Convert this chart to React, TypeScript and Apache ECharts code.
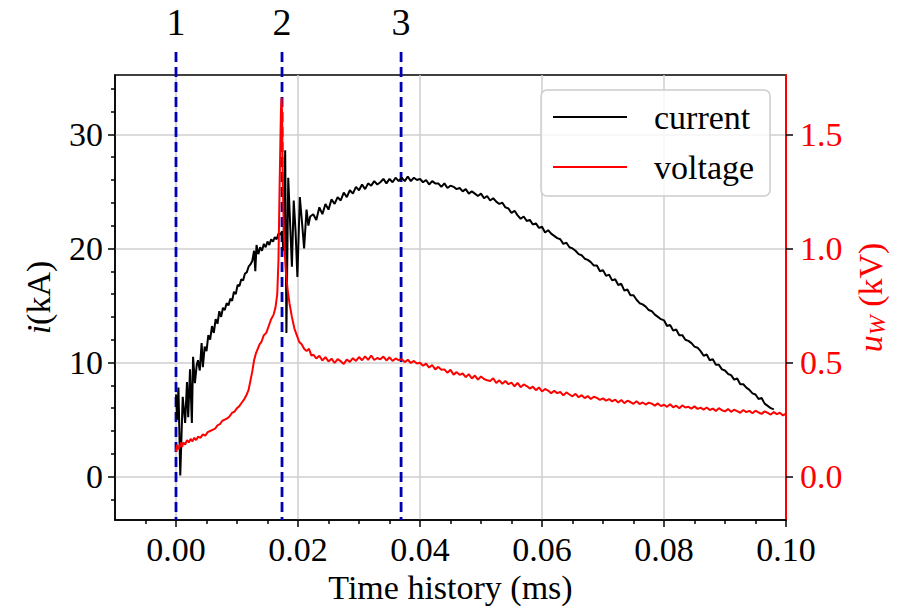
import React, { useEffect, useRef } from "react";
import * as echarts from "echarts";

const FONT = "'Liberation Serif', 'DejaVu Serif', serif";

const X_MIN = -0.01;
const X_MAX = 0.1;
const I_MIN = -3.8;
const I_MAX = 35.2;
const U_MIN = -0.19;
const U_MAX = 1.76;

const xMajorTicks = [0, 0.02, 0.04, 0.06, 0.08, 0.1];
const xMinorTicks = [-0.005, 0.005, 0.01, 0.015, 0.025, 0.03, 0.035, 0.045, 0.05, 0.055, 0.065, 0.07, 0.075, 0.085, 0.09, 0.095];
const iMajorTicks = [0, 10, 20, 30];
const iMinorTicks = [-2, 2, 4, 6, 8, 12, 14, 16, 18, 22, 24, 26, 28, 32, 34];
const uMajorTicks = [0, 0.5, 1.0, 1.5];

const markerTimes = [0.0, 0.01738, 0.0369];
const markerLabels = ["1", "2", "3"];

// current (kA): irregular early part
const currentEarlyT = [
  0, 0.0002, 0.0004, 0.0007, 0.0011, 0.0015, 0.0018, 0.002, 0.0023, 0.0026, 0.0028, 0.0031, 0.0034, 0.0036,
  0.0039, 0.0042, 0.0044, 0.0047, 0.005, 0.0053, 0.0056, 0.0059, 0.0062, 0.0065, 0.0068, 0.0071, 0.0074,
  0.0077, 0.008, 0.0083, 0.0086, 0.0089, 0.0092, 0.0095, 0.0098, 0.0101, 0.0104, 0.0107, 0.011, 0.0113,
  0.0116, 0.0119, 0.0122, 0.0125, 0.0128, 0.013, 0.0132, 0.0135, 0.0138, 0.0141, 0.0144, 0.0147, 0.015,
  0.0153, 0.0156, 0.0159, 0.0162, 0.0165, 0.0168, 0.0171, 0.0174, 0.0176, 0.0179, 0.0181, 0.0184, 0.0188,
  0.019, 0.0193, 0.0196, 0.0199, 0.0203, 0.0207, 0.021, 0.0214, 0.0217, 0.022,
];
const currentEarlyI = [
  7.2, 5.0, 7.8, 0.1, 7.0, 4.7, 8.3, 5.2, 9.4, 4.7, 10.5, 8.2, 9.8, 10.2,
  9.3, 11.7, 9.6, 11.4, 11.0, 12.4, 12.0, 13.2, 12.6, 13.8, 13.4, 14.5, 14.0,
  14.8, 14.6, 15.2, 15.0, 15.6, 15.4, 16.2, 16.0, 16.8, 16.7, 17.3, 17.2, 17.8,
  17.9, 18.4, 18.6, 18.9, 19.8, 18.0, 20.3, 19.5, 20.1, 19.8, 20.4, 20.1, 20.6,
  20.3, 20.8, 20.6, 21.0, 20.8, 21.3, 21.2, 21.5, 19.8, 28.6, 12.6, 26.2, 21.0,
  18.4, 24.2, 21.5, 17.5, 24.5, 22.0, 20.0, 23.4, 22.0, 22.8,
];

// sampled part (every 0.0005 ms from 0.0225 ms)
const LATE_T0 = 0.0225;
const SAMPLE_DT = 0.0005;
const currentLate = [
  23.0, 22.5, 23.6, 23.0, 23.9, 23.4, 24.3, 23.9, 24.5, 24.2, 24.9, 24.5, 25.1, 24.8, 25.4, 25.1,
  25.6, 25.2, 25.7, 25.5, 25.9, 25.6, 25.8, 26.1, 25.7, 26.1, 25.8, 26.2, 25.9, 26.2, 25.9, 26.3,
  25.9, 26.2, 26.0, 26.1, 25.8, 26.0, 25.6, 25.9, 25.7, 25.7, 25.4, 25.7, 25.3, 25.5, 25.4, 25.2,
  25.3, 25.0, 25.2, 24.8, 25.0, 24.8, 24.6, 24.8, 24.4, 24.6, 24.2, 24.4, 24.1, 23.9, 24.0, 23.6,
  23.5, 23.1, 23.3, 22.9, 22.6, 22.8, 22.4, 22.5, 22.1, 22.2, 21.8, 21.9, 21.4, 21.6, 21.3, 21.1,
  20.9, 20.8, 20.4, 20.5, 20.1, 20.0, 19.8, 19.5, 19.4, 19.1, 19.0, 18.8, 18.5, 18.5, 18.0, 18.1,
  17.6, 17.7, 17.2, 17.3, 16.8, 16.9, 16.3, 16.4, 15.9, 15.9, 15.5, 15.2, 15.1, 14.9, 14.6, 14.5,
  14.2, 14.0, 13.8, 13.7, 13.2, 13.3, 12.8, 12.9, 12.4, 12.4, 12.0, 11.9, 11.7, 11.4, 11.3, 11.0,
  10.6, 10.7, 10.2, 10.3, 9.8, 9.8, 9.4, 9.3, 9.0, 8.9, 8.5, 8.6, 8.1, 8.1, 7.8, 7.6,
  7.3, 7.2, 6.8, 6.9, 6.4, 6.2, 6.0, 5.9,
];

// voltage (kV): irregular early part
const voltageEarlyT = [
  0, 0.0002, 0.0004, 0.0006, 0.0008, 0.001, 0.0012, 0.0015, 0.0018, 0.0021, 0.0024, 0.0027, 0.003, 0.0033,
  0.0036, 0.004, 0.0044, 0.0048, 0.0052, 0.0056, 0.006, 0.0064, 0.0068, 0.0072, 0.0076, 0.008, 0.0084,
  0.0088, 0.0092, 0.0096, 0.01, 0.0104, 0.0108, 0.0112, 0.0116, 0.0119, 0.0122, 0.0125, 0.0128, 0.0131,
  0.0134, 0.0137, 0.014, 0.0144, 0.0148, 0.0152, 0.0156, 0.016, 0.0163, 0.0166, 0.0168, 0.017, 0.0172,
  0.0173, 0.0174, 0.0175, 0.0177, 0.018, 0.0183, 0.0186, 0.019, 0.0194, 0.0198, 0.0202, 0.0206, 0.021,
  0.0214, 0.0218, 0.0222,
];
const voltageEarlyU = [
  0.11, 0.14, 0.12, 0.13, 0.15, 0.13, 0.15, 0.14, 0.16, 0.15, 0.165, 0.155, 0.17, 0.16,
  0.175, 0.17, 0.185, 0.18, 0.195, 0.2, 0.205, 0.21, 0.225, 0.23, 0.245, 0.25, 0.255,
  0.265, 0.28, 0.285, 0.3, 0.31, 0.325, 0.34, 0.36, 0.38, 0.42, 0.46, 0.51, 0.54,
  0.56, 0.58, 0.59, 0.62, 0.63, 0.66, 0.69, 0.71, 0.74, 0.8, 0.95, 1.3, 1.6,
  1.66, 1.58, 1.3, 1.05, 0.9, 0.82, 0.76, 0.7, 0.65, 0.62, 0.59, 0.58, 0.56,
  0.55, 0.56, 0.53,
];
const voltageLate = [
  0.535, 0.518, 0.53, 0.509, 0.524, 0.505, 0.517, 0.498, 0.515, 0.506, 0.494, 0.513, 0.503, 0.519, 0.507, 0.524,
  0.51, 0.527, 0.512, 0.531, 0.511, 0.52, 0.514, 0.526, 0.509, 0.523, 0.507, 0.518, 0.511, 0.515, 0.502, 0.512,
  0.498, 0.507, 0.496, 0.499, 0.486, 0.495, 0.478, 0.489, 0.47, 0.481, 0.468, 0.47, 0.455, 0.468, 0.447, 0.458,
  0.446, 0.452, 0.436, 0.449, 0.43, 0.443, 0.425, 0.439, 0.428, 0.422, 0.419, 0.431, 0.41, 0.422, 0.407, 0.419,
  0.405, 0.412, 0.396, 0.411, 0.392, 0.404, 0.397, 0.386, 0.394, 0.379, 0.391, 0.373, 0.384, 0.377, 0.365, 0.376,
  0.366, 0.371, 0.356, 0.369, 0.36, 0.352, 0.363, 0.348, 0.357, 0.344, 0.353, 0.34, 0.35, 0.345, 0.336, 0.343,
  0.333, 0.34, 0.33, 0.337, 0.325, 0.336, 0.322, 0.333, 0.327, 0.319, 0.33, 0.318, 0.325, 0.316, 0.324, 0.32,
  0.311, 0.321, 0.309, 0.315, 0.306, 0.317, 0.304, 0.311, 0.3, 0.312, 0.303, 0.306, 0.298, 0.308, 0.297, 0.302,
  0.294, 0.303, 0.292, 0.298, 0.288, 0.3, 0.291, 0.286, 0.296, 0.284, 0.293, 0.287, 0.28, 0.292, 0.283, 0.288,
  0.278, 0.289, 0.281, 0.275, 0.286, 0.279, 0.272, 0.283, 0.274, 0.28, 0.268, 0.276,
];

const GRID = { left: 115, right: 116, top: 75, bottom: 91 };

export default function App() {
  const ref = useRef<HTMLDivElement>(null);
  useEffect(() => {
    document.body.style.margin = "0";
    if (!ref.current) return;
    const chart = echarts.init(ref.current, null, { renderer: "svg" });

    const currentData = [
      ...currentEarlyT.map((t, k) => [t, currentEarlyI[k]]),
      ...currentLate.map((v, k) => [LATE_T0 + k * SAMPLE_DT, v]),
    ];
    const voltageData = [
      ...voltageEarlyT.map((t, k) => [t, voltageEarlyU[k]]),
      ...voltageLate.map((v, k) => [LATE_T0 + k * SAMPLE_DT, v]),
    ];

    const tickStyle = { color: "#000", width: 1.5 };
    const labelBase = { fontFamily: FONT, fontSize: 34, color: "#000" };
    const splitStyle = { color: "#cfcfcf", width: 1.5 };

    chart.setOption({
      animation: false,
      grid: { ...GRID, show: true, borderColor: "#000", borderWidth: 1.5, backgroundColor: "transparent" },
      legend: {
        orient: "vertical",
        left: 541,
        top: 90,
        data: [
          { name: "current", icon: "rect" },
          { name: "voltage", icon: "rect" },
        ],
        itemWidth: 74,
        itemHeight: 2,
        itemGap: 16,
        textStyle: { fontFamily: FONT, fontSize: 34, color: "#000", padding: [0, 0, 0, 22] },
        backgroundColor: "rgba(255,255,255,0.8)",
        borderColor: "#cccccc",
        borderWidth: 1.5,
        borderRadius: 6,
        padding: [10, 16, 12, 12],
        z: 10,
      },
      xAxis: [
        {
          type: "value",
          min: X_MIN,
          max: X_MAX,
          position: "bottom",
          name: "Time history (ms)",
          nameLocation: "middle",
          nameGap: 34,
          nameTextStyle: { fontFamily: FONT, fontSize: 34, color: "#000" },
          axisLine: { show: true, onZero: false, lineStyle: { color: "#000", width: 1.5 } },
          axisTick: { show: true, length: 7, lineStyle: tickStyle, customValues: xMajorTicks },
          axisLabel: {
            ...labelBase,
            margin: 12,
            customValues: xMajorTicks,
            formatter: (v: number) => v.toFixed(2),
          },
          splitLine: { show: true, lineStyle: splitStyle },
        },
        {
          type: "value",
          min: X_MIN,
          max: X_MAX,
          position: "bottom",
          axisLine: { show: false, onZero: false },
          axisTick: { show: true, length: 4, lineStyle: tickStyle, customValues: xMinorTicks },
          axisLabel: { show: false },
          splitLine: { show: false },
        },
      ],
      yAxis: [
        {
          type: "value",
          min: I_MIN,
          max: I_MAX,
          position: "left",
          name: "{it|i}(kA)",
          nameLocation: "middle",
          nameGap: 60,
          nameTextStyle: {
            fontFamily: FONT,
            fontSize: 34,
            color: "#000",
            rich: { it: { fontFamily: FONT, fontSize: 34, fontStyle: "italic", color: "#000" } },
          },
          axisLine: { show: true, onZero: false, lineStyle: { color: "#000", width: 1.5 } },
          axisTick: { show: true, length: 7, lineStyle: tickStyle, customValues: iMajorTicks },
          axisLabel: { ...labelBase, margin: 12, customValues: iMajorTicks },
          splitLine: { show: true, lineStyle: splitStyle },
        },
        {
          type: "value",
          min: I_MIN,
          max: I_MAX,
          position: "left",
          axisLine: { show: false, onZero: false },
          axisTick: { show: true, length: 4, lineStyle: tickStyle, customValues: iMinorTicks },
          axisLabel: { show: false },
          splitLine: { show: false },
        },
        {
          type: "value",
          min: U_MIN,
          max: U_MAX,
          position: "right",
          name: "{it|u}{sub|W} (kV)",
          nameLocation: "middle",
          nameGap: 64,
          nameTextStyle: {
            fontFamily: FONT,
            fontSize: 34,
            color: "#ff0000",
            rich: {
              it: { fontFamily: FONT, fontSize: 34, fontStyle: "italic", color: "#ff0000" },
              sub: { fontFamily: FONT, fontSize: 24, fontStyle: "italic", color: "#ff0000", padding: [14, 0, 0, 0] },
            },
          },
          axisLine: { show: true, onZero: false, lineStyle: { color: "#ff0000", width: 2 } },
          axisTick: { show: true, length: 7, lineStyle: tickStyle, customValues: uMajorTicks },
          axisLabel: {
            ...labelBase,
            color: "#ff0000",
            margin: 14,
            customValues: uMajorTicks,
            formatter: (v: number) => v.toFixed(1),
          },
          splitLine: { show: false },
        },
      ],
      series: [
        {
          name: "current",
          type: "line",
          xAxisIndex: 0,
          yAxisIndex: 0,
          data: currentData,
          showSymbol: false,
          symbol: "none",
          lineStyle: { color: "#000", width: 2 },
          itemStyle: { color: "#000" },
          z: 3,
        },
        {
          name: "voltage",
          type: "line",
          xAxisIndex: 0,
          yAxisIndex: 2,
          data: voltageData,
          showSymbol: false,
          symbol: "none",
          lineStyle: { color: "#ff0000", width: 2 },
          itemStyle: { color: "#ff0000" },
          z: 4,
        },
      ],
    });

    const yBottom = chart.convertToPixel({ yAxisIndex: 0 }, I_MIN) as number;
    const yTop = GRID.top - 23;
    const graphics: any[] = [];
    markerTimes.forEach((t, k) => {
      const x = chart.convertToPixel({ xAxisIndex: 0 }, t) as number;
      graphics.push({
        type: "line",
        z: 3,
        shape: { x1: x, y1: yTop, x2: x, y2: yBottom },
        style: { stroke: "#0000b4", lineWidth: 2.8, lineDash: [10, 5] },
      });
      graphics.push({
        type: "text",
        z: 5,
        x,
        y: 22,
        style: {
          text: markerLabels[k],
          font: `38px ${FONT}`,
          fill: "#000",
          textAlign: "center",
          textVerticalAlign: "middle",
        },
      });
    });
    chart.setOption({ graphic: graphics });

    return () => chart.dispose();
  }, []);

  return <div ref={ref} style={{ width: 902, height: 611 }} />;
}
